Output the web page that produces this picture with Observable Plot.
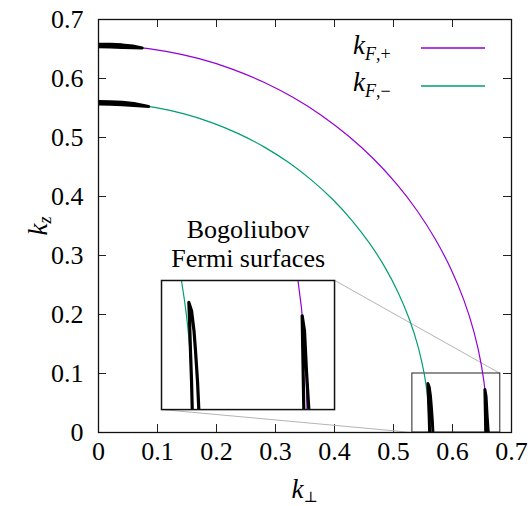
<!DOCTYPE html>
<html><head><meta charset="utf-8">
<script src="https://cdn.jsdelivr.net/npm/d3@7"></script>
<script src="https://cdn.jsdelivr.net/npm/@observablehq/plot@0.6"></script>
<style>
body{margin:0;background:#fff;}
#wrap{position:relative;width:530px;height:506px;font-family:"Liberation Serif",serif;color:#000;}
.lab{position:absolute;white-space:nowrap;font-size:27px;line-height:1;}
.lab i{font-style:italic;}
.lab .sub{position:relative;top:6px;font-size:18px;}
</style></head><body><div id="wrap"></div>
<script>
// ---- data ----
const xTicks = [0, 0.1, 0.2, 0.3, 0.4, 0.5, 0.6, 0.7];
const yTicks = [0, 0.1, 0.2, 0.3, 0.4, 0.5, 0.6, 0.7];
const tickLabels = ["0", "0.1", "0.2", "0.3", "0.4", "0.5", "0.6", "0.7"];

// k_F,+ (purple) Fermi surface
const kPlusPerp = [0, 0.0574, 0.1144, 0.1706, 0.2254, 0.2785, 0.3295, 0.3780, 0.4236, 0.4660, 0.5048, 0.5398, 0.5707, 0.5973, 0.6193, 0.6366, 0.6490, 0.6565, 0.659];
const kPlusZ    = [0.656, 0.6535, 0.6460, 0.6337, 0.6164, 0.5945, 0.5681, 0.5374, 0.5025, 0.4639, 0.4217, 0.3763, 0.3280, 0.2772, 0.2244, 0.1698, 0.1139, 0.0572, 0];
// k_F,- (green) Fermi surface
const kMinusPerp = [0, 0.0489, 0.0974, 0.1452, 0.1919, 0.2371, 0.2805, 0.3218, 0.3606, 0.3967, 0.4297, 0.4595, 0.4858, 0.5084, 0.5272, 0.5419, 0.5525, 0.5589, 0.561];
const kMinusZ    = [0.559, 0.5569, 0.5505, 0.5400, 0.5253, 0.5066, 0.4841, 0.4579, 0.4282, 0.3953, 0.3593, 0.3206, 0.2795, 0.2362, 0.1912, 0.1447, 0.0971, 0.0487, 0];

// Bogoliubov Fermi surfaces (closed thin loops)
const bfsLoop = ["A","A","A","A","A","A","A","A","A",
                 "B","B","B","B","B","B","B","B","B",
                 "C","C","C","C","C","C","C","C","C","C",
                 "D","D","D","D","D","D"];
const bfsPerp = [0, 0.02, 0.04, 0.058, 0.074, 0.058, 0.04, 0.02, 0,
                 0, 0.02, 0.04, 0.06, 0.085, 0.06, 0.04, 0.02, 0,
                 0.5612, 0.5606, 0.5597, 0.5589, 0.5583, 0.5606, 0.5627, 0.5640, 0.5657, 0.5668,
                 0.6563, 0.6556, 0.6549, 0.6569, 0.6586, 0.6606];
const bfsZ    = [0.6582, 0.6579, 0.6570, 0.6550, 0.6519, 0.6522, 0.6526, 0.6535, 0.6538,
                 0.5612, 0.5608, 0.5598, 0.5575, 0.5526, 0.5541, 0.5554, 0.5564, 0.5568,
                 0, 0.0219, 0.0453, 0.0688, 0.083, 0.0766, 0.0609, 0.0453, 0.0219, 0,
                 0, 0.0375, 0.0727, 0.0609, 0.0297, 0];

// zoomed region and the inset that shows it (in k units)
const zoomRegion = [0.532, 0.681, 0, 0.1];        // x1, x2, y1, y2 in the main chart
const insetDomain = [0.535, 0.6825, 0, 0.1];      // what the inset shows
const insetPlace = [0.107, 0.4003, 0.039, 0.2578]; // where the inset sits
const insetTitle = ["Bogoliubov", "Fermi surfaces"];
const seriesNames = ["k_F,+", "k_F,-"];

// ---- tables ----
const plus = kPlusPerp.map((x, i) => ({x, y: kPlusZ[i]}));
const minus = kMinusPerp.map((x, i) => ({x, y: kMinusZ[i]}));
const bfs = bfsPerp.map((x, i) => ({x, y: bfsZ[i], loop: bfsLoop[i]}));
const PURPLE = "#9400d3", GREEN = "#009e73";
const FONT = "Liberation Serif";
const fmt = d => tickLabels[xTicks.indexOf(d)];

const zr = [{x1: zoomRegion[0], x2: zoomRegion[1], y1: zoomRegion[2], y2: zoomRegion[3]}];
const links = [
  {x1: insetPlace[1], y1: insetPlace[3], x2: zoomRegion[1], y2: zoomRegion[3]},
  {x1: insetPlace[0], y1: insetPlace[2], x2: zoomRegion[0], y2: zoomRegion[2]}
];

const main = Plot.plot({
  width: 530, height: 506,
  marginLeft: 98, marginRight: 19, marginTop: 19, marginBottom: 74,
  x: {domain: [0, 0.7]},
  y: {domain: [0, 0.7]},
  style: {background: "transparent"},
  marks: [
    Plot.axisX(xTicks, {tickSize: 0, tickPadding: 9, label: null, fontSize: 26, fontFamily: FONT, tickFormat: fmt, fill: "black"}),
    Plot.axisY(yTicks, {tickSize: 0, tickPadding: 15, label: null, fontSize: 26, fontFamily: FONT, tickFormat: fmt, fill: "black"}),
    Plot.tickX(xTicks, {x: d => d, insetTop: 405, stroke: "#222", strokeWidth: 1}),
    Plot.tickX(xTicks, {x: d => d, insetBottom: 405, stroke: "#222", strokeWidth: 1}),
    Plot.tickY(yTicks, {y: d => d, insetRight: 405, stroke: "#222", strokeWidth: 1}),
    Plot.tickY(yTicks, {y: d => d, insetLeft: 405, stroke: "#222", strokeWidth: 1}),
    Plot.link(links, {x1: "x1", y1: "y1", x2: "x2", y2: "y2", stroke: "#b4b4b4", strokeWidth: 1}),
    Plot.rect(zr, {x1: "x1", x2: "x2", y1: "y1", y2: "y2", fill: "none", stroke: "#222", strokeWidth: 1}),
    Plot.line(plus, {x: "x", y: "y", stroke: PURPLE, strokeWidth: 1.2, curve: "natural"}),
    Plot.line(minus, {x: "x", y: "y", stroke: GREEN, strokeWidth: 1.2, curve: "natural"}),
    Plot.line(bfs, {x: "x", y: "y", z: "loop", stroke: "black", strokeWidth: 3, strokeLinejoin: "round", clip: true}),
    Plot.text([insetTitle.join("\n")], {x: [(insetPlace[0] + insetPlace[1]) / 2], y: [insetPlace[3]], text: d => d, lineAnchor: "bottom", dy: -13, lineHeight: 1.12, fontSize: 26, fontFamily: FONT, fill: "black"}),
    Plot.frame({stroke: "#111", strokeWidth: 1.3})
  ]
});

const wrap = document.getElementById("wrap");
wrap.appendChild(main);
main.style.position = "absolute"; main.style.left = "0"; main.style.top = "0";

const sx = main.scale("x"), sy = main.scale("y");
const L = sx.apply(insetPlace[0]), R = sx.apply(insetPlace[1]);
const T = sy.apply(insetPlace[3]), B = sy.apply(insetPlace[2]);

const inset = Plot.plot({
  width: R - L, height: B - T, margin: 0,
  x: {domain: [insetDomain[0], insetDomain[1]], axis: null},
  y: {domain: [insetDomain[2], insetDomain[3]], axis: null},
  style: {background: "white", overflow: "visible"},
  marks: [
    Plot.line(plus, {x: "x", y: "y", stroke: PURPLE, strokeWidth: 1.2, curve: "natural", clip: true}),
    Plot.line(minus, {x: "x", y: "y", stroke: GREEN, strokeWidth: 1.2, curve: "natural", clip: true}),
    Plot.line(bfs, {x: "x", y: "y", z: "loop", stroke: "black", strokeWidth: 3.2, strokeLinejoin: "round", clip: true}),
    Plot.frame({stroke: "#111", strokeWidth: 1.5})
  ]
});
inset.style.position = "absolute";
inset.style.left = L + "px"; inset.style.top = T + "px";
wrap.appendChild(inset);

// legend (top right, inside the frame): sample lines drawn as svg lines
const legColors = [PURPLE, GREEN];
const legSubs = [",+", ",\u2212"];
const legSvg = d3.create("svg").attr("width", 530).attr("height", 506)
  .style("position", "absolute").style("left", "0px").style("top", "0px");
legColors.forEach((c, i) => {
  legSvg.append("line").attr("x1", 421).attr("x2", 485)
    .attr("y1", 48 + i * 38).attr("y2", 48 + i * 38)
    .attr("stroke", c).attr("stroke-width", 1.4);
});
wrap.appendChild(legSvg.node());
seriesNames.forEach((n, i) => {
  const t = document.createElement("div");
  t.className = "lab";
  t.style.left = "353px"; t.style.top = (32 + i * 37) + "px";
  t.innerHTML = `<i>k</i><span class="sub"><i>F</i>${legSubs[i]}</span>`;
  wrap.appendChild(t);
});

// axis labels
const xl = document.createElement("div");
xl.className = "lab";
xl.style.left = ((sx.apply(0) + sx.apply(0.7)) / 2) + "px"; xl.style.top = "476px";
xl.style.transform = "translateX(-50%)";
xl.innerHTML = `<i>k</i><span class="sub" style="top:4px;font-family:'DejaVu Serif';font-size:15px">\u22a5</span>`;
wrap.appendChild(xl);

const yl = document.createElement("div");
yl.className = "lab";
yl.style.left = "38px"; yl.style.top = ((sy.apply(0) + sy.apply(0.7)) / 2) + "px";
yl.style.transform = "translate(-50%,-50%) rotate(-90deg)";
yl.innerHTML = `<i>k</i><span class="sub" style="top:4px"><i>z</i></span>`;
wrap.appendChild(yl);
</script></body></html>
